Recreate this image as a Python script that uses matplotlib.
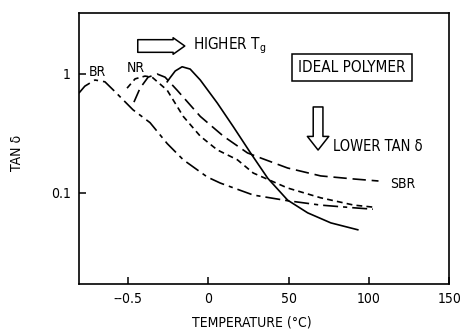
"""
Tan delta vs temperature for BR, NR, SBR and a target ("ideal") polymer.
Values read off a scanned figure.
"""

import matplotlib
matplotlib.use("Agg")
import matplotlib.pyplot as plt

plt.rcParams["font.family"] = ["DejaVu Sans"]
plt.rcParams["font.stretch"] = "condensed"

# BR (dash-dot)
br_temp = [-80.6, -76.9, -70.6, -64.4, -58.1, -46.9, -36.3, -25.6, -15.6, -0.6,
           7.5, 28.0, 49.4, 70.0, 90.6, 102.5]
br_tan = [0.69, 0.79, 0.89, 0.86, 0.71, 0.50, 0.39, 0.26, 0.19, 0.136,
          0.121, 0.096, 0.086, 0.079, 0.075, 0.073]

# NR (short dashes)
nr_temp = [-50.6, -45.6, -39.4, -35.0, -25.6, -15.6, -5.0, 5.6, 18.1, 28.0,
           49.4, 70.0, 90.6, 102.5]
nr_tan = [0.76, 0.91, 0.96, 0.94, 0.73, 0.44, 0.30, 0.23, 0.19, 0.147,
          0.110, 0.091, 0.079, 0.076]

# SBR (long dashes)
sbr_temp = [-46.3, -42.5, -37.5, -31.9, -26.9, -19.4, -5.0, 9.4, 24.4, 32.5,
            49.4, 70.0, 90.6, 106.0]
sbr_tan = [0.58, 0.76, 0.94, 1.00, 0.94, 0.73, 0.44, 0.30, 0.217, 0.197,
           0.162, 0.139, 0.131, 0.126]

# ideal polymer (solid)
ideal_temp = [-25.6, -23.8, -20.6, -16.3, -11.3, -5.0, 5.6, 15.6, 26.3, 37.0,
              49.4, 61.9, 76.3, 93.1]
ideal_tan = [0.86, 0.93, 1.06, 1.15, 1.10, 0.89, 0.57, 0.36, 0.217, 0.133,
             0.087, 0.068, 0.056, 0.049]

x_ticks = [-50, 0, 50, 100, 150]
x_ticklabels = ["--0.5", "0", "50", "100", "150"]
y_ticks = [0.1, 1]
y_ticklabels = ["0.1", "1"]

fig = plt.figure(figsize=(4.64, 3.32), dpi=100)
ax = fig.add_axes([0.170, 0.145, 0.798, 0.816])

lw = 1.2
ax.plot(br_temp, br_tan, color="black", lw=lw, dashes=(9, 3, 2.5, 3))
ax.plot(nr_temp, nr_tan, color="black", lw=lw, dashes=(3.5, 2.5))
ax.plot(sbr_temp, sbr_tan, color="black", lw=lw, dashes=(8, 3.5))
ax.plot(ideal_temp, ideal_tan, color="black", lw=lw)

ax.set_yscale("log")
ax.set_xlim(-80.6, 150)
ax.set_ylim(0.0172, 3.26)
ax.set_xticks(x_ticks)
ax.set_xticklabels(x_ticklabels)
ax.set_yticks(y_ticks)
ax.set_yticklabels(y_ticklabels)
ax.yaxis.set_minor_locator(matplotlib.ticker.NullLocator())
ax.tick_params(direction="in", length=5, width=1.1, labelsize=10, pad=6)
for sp in ax.spines.values():
    sp.set_linewidth(1.2)

ax.set_xlabel("TEMPERATURE (°C)", fontsize=10, va="center")
ax.xaxis.set_label_coords(0.468, -0.144)
ax.set_ylabel("TAN δ", fontsize=10, va="center")
ax.yaxis.set_label_coords(-0.168, 0.483)

# curve labels
ax.text(-69, 1.04, "BR", fontsize=10, ha="center", va="center")
ax.text(-45, 1.12, "NR", fontsize=10, ha="center", va="center")
ax.text(113, 0.119, "SBR", fontsize=10, ha="left", va="center")

# "higher Tg" arrow
ax.annotate("", xy=(0.286, 0.878), xytext=(0.159, 0.878), xycoords="axes fraction",
            arrowprops=dict(arrowstyle="simple,head_length=0.6,head_width=0.85,tail_width=0.65",
                            fc="white", ec="black", lw=1.1, mutation_scale=14,
                            shrinkA=0, shrinkB=0))
ax.text(0.308, 0.878, "HIGHER T$_\\mathrm{g}$", transform=ax.transAxes,
        fontsize=11, ha="left", va="center")

# ideal polymer box
ax.text(0.738, 0.800, "IDEAL POLYMER", transform=ax.transAxes, fontsize=11,
        ha="center", va="center",
        bbox=dict(boxstyle="square,pad=0.4", fc="white", ec="black", lw=1.1))

# "lower tan delta" arrow
ax.annotate("", xy=(0.646, 0.494), xytext=(0.646, 0.653), xycoords="axes fraction",
            arrowprops=dict(arrowstyle="simple,head_length=0.7,head_width=1.1,tail_width=0.5",
                            fc="white", ec="black", lw=1.1, mutation_scale=14,
                            shrinkA=0, shrinkB=0))
ax.text(0.686, 0.508, "LOWER TAN δ", transform=ax.transAxes, fontsize=10.5,
        ha="left", va="center")

fig.savefig("out.png", dpi=100)
